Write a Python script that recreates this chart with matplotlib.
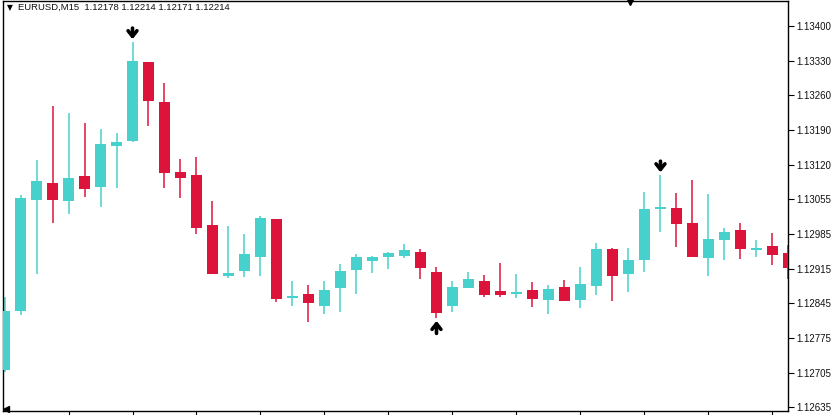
import numpy as np
import matplotlib
matplotlib.use('Agg')
import matplotlib.pyplot as plt

color_up = '#48D1CC'
color_down = '#DC143C'

title = 'EURUSD,M15  1.12178 1.12214 1.12171 1.12214'

# candles, oldest first
opens = [1.12710, 1.12828, 1.13051, 1.13085, 1.13049, 1.13099, 1.13077, 1.13159, 1.13169, 1.13328,
         1.13248, 1.13107, 1.13101, 1.13001, 1.12899, 1.12909, 1.12937, 1.13013, 1.12854, 1.12862,
         1.12838, 1.12874, 1.12911, 1.12929, 1.12937, 1.12939, 1.12947, 1.12907, 1.12838, 1.12874,
         1.12888, 1.12868, 1.12862, 1.12870, 1.12850, 1.12876, 1.12850, 1.12878, 1.12953, 1.12903,
         1.12931, 1.13033, 1.13035, 1.13005, 1.12935, 1.12971, 1.12991, 1.12951, 1.12959, 1.12945]
highs = [1.12856, 1.13061, 1.13131, 1.13240, 1.13225, 1.13205, 1.13193, 1.13185, 1.13368, 1.13328,
         1.13286, 1.13133, 1.13137, 1.13049, 1.12999, 1.12983, 1.13019, 1.13013, 1.12888, 1.12880,
         1.12888, 1.12923, 1.12943, 1.12939, 1.12947, 1.12963, 1.12953, 1.12917, 1.12888, 1.12907,
         1.12901, 1.12925, 1.12903, 1.12886, 1.12880, 1.12890, 1.12917, 1.12965, 1.12955, 1.12955,
         1.13067, 1.13101, 1.13065, 1.13091, 1.13063, 1.12995, 1.13005, 1.12971, 1.12985, 1.12961]
lows = [1.12706, 1.12820, 1.12903, 1.13005, 1.13023, 1.13057, 1.13037, 1.13075, 1.13167, 1.13199,
        1.13075, 1.13055, 1.12983, 1.12903, 1.12895, 1.12897, 1.12899, 1.12846, 1.12838, 1.12806,
        1.12822, 1.12826, 1.12862, 1.12905, 1.12913, 1.12935, 1.12893, 1.12814, 1.12826, 1.12874,
        1.12856, 1.12856, 1.12854, 1.12836, 1.12822, 1.12848, 1.12834, 1.12860, 1.12848, 1.12866,
        1.12907, 1.12987, 1.12957, 1.12937, 1.12899, 1.12931, 1.12933, 1.12937, 1.12921, 1.12893]
closes = [1.12828, 1.13055, 1.13089, 1.13051, 1.13095, 1.13073, 1.13163, 1.13167, 1.13330, 1.13250,
          1.13105, 1.13095, 1.12995, 1.12903, 1.12905, 1.12943, 1.13015, 1.12852, 1.12858, 1.12844,
          1.12870, 1.12909, 1.12937, 1.12937, 1.12945, 1.12951, 1.12915, 1.12824, 1.12876, 1.12893,
          1.12860, 1.12860, 1.12866, 1.12852, 1.12872, 1.12848, 1.12882, 1.12953, 1.12899, 1.12931,
          1.13033, 1.13037, 1.13003, 1.12937, 1.12973, 1.12987, 1.12953, 1.12955, 1.12941, 1.12915]

# fractal arrows
upper_fractals = [8, 41]
lower_fractals = [27]

price_labels = ['1.13400', '1.13330', '1.13260', '1.13190', '1.13120', '1.13055',
                '1.12985', '1.12915', '1.12845', '1.12775', '1.12705', '1.12635']

o = np.array(opens)
h = np.array(highs)
l = np.array(lows)
c = np.array(closes)
x = np.arange(len(o))
up = c >= o
colors = np.where(up, color_up, color_down)

fig = plt.figure(figsize=(8.35, 4.15), dpi=100)
ax = fig.add_axes([3 / 835, 4 / 415, 785 / 835, 410 / 415])

ax.vlines(x, l, h, colors=colors, lw=1.1, zorder=2)
body = np.maximum(np.abs(c - o), 0.00004)
ax.bar(x, body, bottom=np.minimum(o, c), width=0.69, color=colors, zorder=3)

arrow_style = dict(arrowstyle='->,head_length=0.4,head_width=0.32', lw=2.6, color='black')
for i in upper_fractals:
    ax.annotate('', xy=(i, h[i]), xytext=(0, 12), textcoords='offset points',
                arrowprops=arrow_style, zorder=4)
for i in lower_fractals:
    ax.annotate('', xy=(i, l[i]), xytext=(0, -13), textcoords='offset points',
                arrowprops=arrow_style, zorder=4)

ax.set_xlim(-0.094, 48.97)
ax.set_ylim(1.126277, 1.134502)

ax.yaxis.tick_right()
ax.set_yticks(np.linspace(1.13400, 1.12635, len(price_labels)), price_labels)
ax.tick_params(axis='y', direction='out', length=4, width=0.8, pad=2, labelsize=7,
               labelfontfamily='Liberation Sans', labelcolor='#111111')
ax.set_xticks(range(4, 50, 4), [])
ax.tick_params(axis='x', direction='out', length=4, width=0.8)

for s in ax.spines.values():
    s.set_color('black')
    s.set_linewidth(1.0)

ax.text(0.005, 0.984, '\u25bc', transform=ax.transAxes, fontsize=5.5, va='center', ha='left',
        family=['DejaVu Sans'])
ax.text(0.019, 0.984, title, transform=ax.transAxes, fontsize=6.8, va='center', ha='left',
        family=['Liberation Sans', 'DejaVu Sans'], color='#111111')

# chart shift and corner markers
ax.plot([0.799], [1.0], marker='v', color='black', markersize=6, transform=ax.transAxes, clip_on=False)
ax.plot([0.004], [0.006], marker='<', color='black', markersize=4, transform=ax.transAxes, clip_on=False)

fig.savefig('out.png', dpi=100)
